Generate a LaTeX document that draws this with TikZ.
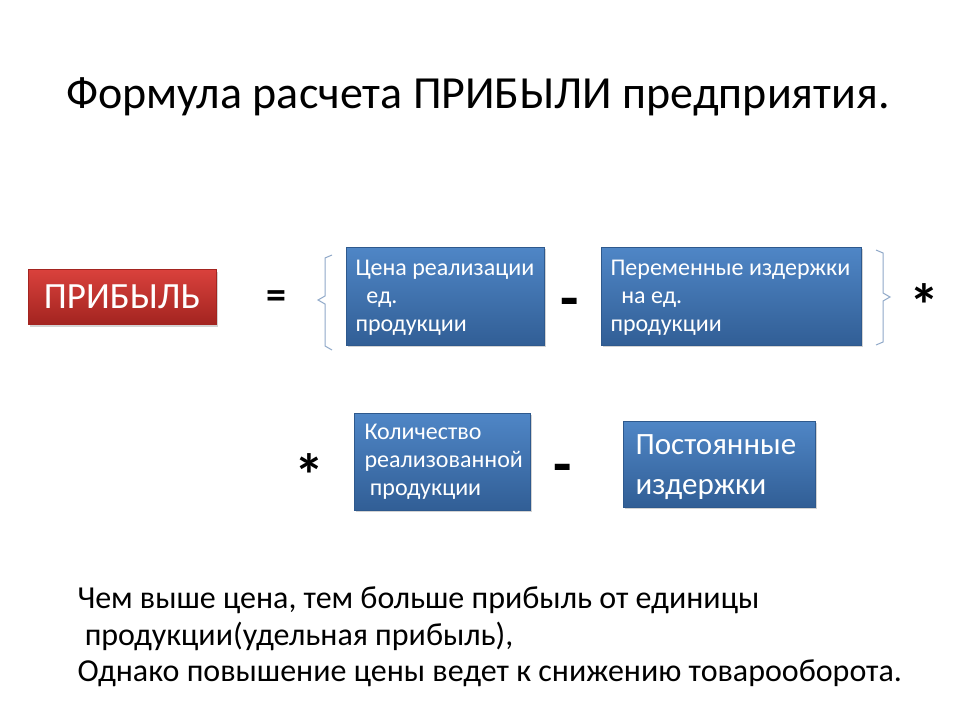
\documentclass[tikz,border=0pt]{standalone}
\usepackage{fontspec}
\setmainfont{Carlito}
\usetikzlibrary{shadows}
\definecolor{bluebox}{HTML}{3A6FB0}
\definecolor{bluetop}{HTML}{4F86C6}
\definecolor{redtop}{HTML}{D9413C}
\definecolor{redbot}{HTML}{A32420}
\definecolor{brk}{HTML}{8FA8C8}
\tikzset{
 bbox/.style={draw=bluebox!80!black, top color=bluetop, bottom color=bluebox!85!black, text=white, inner sep=0pt, drop shadow={opacity=0.35,shadow xshift=2pt,shadow yshift=-2pt}},
 btxt/.style={text=white, align=left, anchor=west, font=\fontsize{24}{28}\selectfont},
 op/.style={font=\fontsize{60}{60}\selectfont\bfseries},
 brack/.style={draw=brk, line width=1pt},
}
\begin{document}
\begin{tikzpicture}[x=1pt,y=-1pt]
\useasboundingbox (0,0) rectangle (960,720);
\node (title) at (478,97) {\fontsize{46}{50}\selectfont Формула расчета ПРИБЫЛИ предприятия.};
\node[draw=redbot, top color=redtop, bottom color=redbot, minimum width=188pt, minimum height=55pt, text=white, font=\fontsize{37}{40}\selectfont, drop shadow={opacity=0.35,shadow xshift=2pt,shadow yshift=-2pt}] (pr) at (122,297) {ПРИБЫЛЬ};
\node (eq) at (276,300) {\fontsize{40}{40}\selectfont\bfseries =};
\draw[brack] (332,255) -- (325,258) -- (325,296) -- (318,300) -- (325,304) -- (325,346) -- (332,350);
\draw[bbox] (346,247) rectangle (544,345);
\node[btxt] (b1) at (352,298) {Цена реализации\\\ \ ед.\\продукции};
\node[op] (m1) at (570,308) {-};
\draw[bbox] (601,247) rectangle (861,345);
\node[btxt] (b2) at (607,298) {Переменные издержки\\\ \ на ед.\\продукции};
\draw[brack] (876,250) -- (883,253) -- (883,293) -- (890,297) -- (883,301) -- (883,342) -- (876,345);
\node[op] (s1) at (924,305) {*};
\node[op] (s2) at (309,475) {*};
\draw[bbox] (354,413) rectangle (530,510);
\node[btxt] (b3) at (361,462) {Количество\\реализованной\\\ продукции};
\node[op] (m2) at (563,474) {-};
\draw[bbox] (623,421) rectangle (815,507);
\node[btxt, font=\fontsize{31}{40}\selectfont] (b4) at (632,467) {Постоянные\\издержки};
\node[anchor=west, font=\fontsize{32}{32}\selectfont] (t1) at (74,600) {Чем выше цена, тем больше прибыль от единицы};
\node[anchor=west, font=\fontsize{32}{32}\selectfont] (t2) at (74,636) {\ продукции(удельная прибыль),};
\node[anchor=west, font=\fontsize{32}{32}\selectfont] (t3) at (74,673) {Однако повышение цены ведет к снижению товарооборота.};
\end{tikzpicture}
\end{document}
